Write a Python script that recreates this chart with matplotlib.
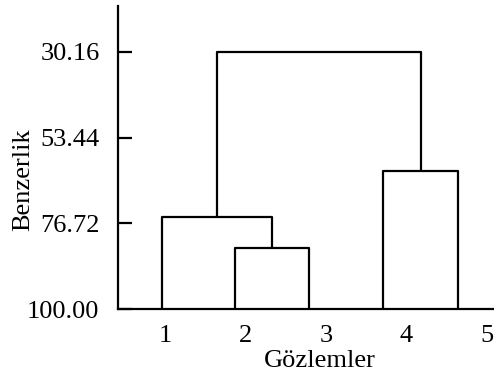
import matplotlib
matplotlib.use("Agg")
import matplotlib.pyplot as plt

# leaf positions on the x axis (observations 1..5) and merge similarity levels
leaf_x = [0.95, 1.867, 2.79, 3.71, 4.646]
merge_23 = 83.4    # obs 2 + obs 3
merge_1_23 = 75.0  # obs 1 + (2,3)
merge_45 = 62.5    # obs 4 + obs 5
merge_all = 30.16  # (1,2,3) + (4,5)

y_ticks = [30.16, 53.44, 76.72, 100.00]
x_ticks = [1, 2, 3, 4, 5]
base = 100.0

plt.rcParams["font.family"] = ["Liberation Serif", "DejaVu Serif"]

fig = plt.figure(figsize=(4.94, 3.79), dpi=100)
ax = fig.add_axes([0.238, 0.184, 0.762, 0.800])

lw = 1.6
kw = dict(color="black", lw=lw, solid_capstyle="butt")


def link(xa, ya, xb, yb, h):
    # draw a U-shaped link between two nodes at height h
    ax.plot([xa, xa, xb, xb], [ya, h, h, yb], **kw)
    return (xa + xb) / 2


x23 = link(leaf_x[1], base, leaf_x[2], base, merge_23)
x123 = link(leaf_x[0], base, x23, merge_23, merge_1_23)
x45 = link(leaf_x[3], base, leaf_x[4], base, merge_45)
link(x123, merge_1_23, x45, merge_45, merge_all)

ax.set_xlim(0.4, 5.09)
ax.set_ylim(100, 17.77)
ax.set_yticks(y_ticks)
ax.set_yticklabels([f"{v:.2f}" for v in y_ticks])
ax.set_xticks(x_ticks)
ax.set_xticklabels([str(v) for v in x_ticks])

for s in ["top", "right"]:
    ax.spines[s].set_visible(False)
for s in ["left", "bottom"]:
    ax.spines[s].set_linewidth(lw)

fs = 19
ax.tick_params(axis="y", direction="in", length=10, width=lw, pad=13, labelsize=fs)
ax.tick_params(axis="x", length=0, pad=11, labelsize=fs)

ax.set_xlabel("Gözlemler", fontsize=fs)
ax.set_ylabel("Benzerlik", fontsize=fs)
ax.xaxis.set_label_coords(0.538, -0.135)
ax.yaxis.set_label_coords(-0.222, 0.426)

fig.savefig("out.png", dpi=100)
plt.close(fig)
